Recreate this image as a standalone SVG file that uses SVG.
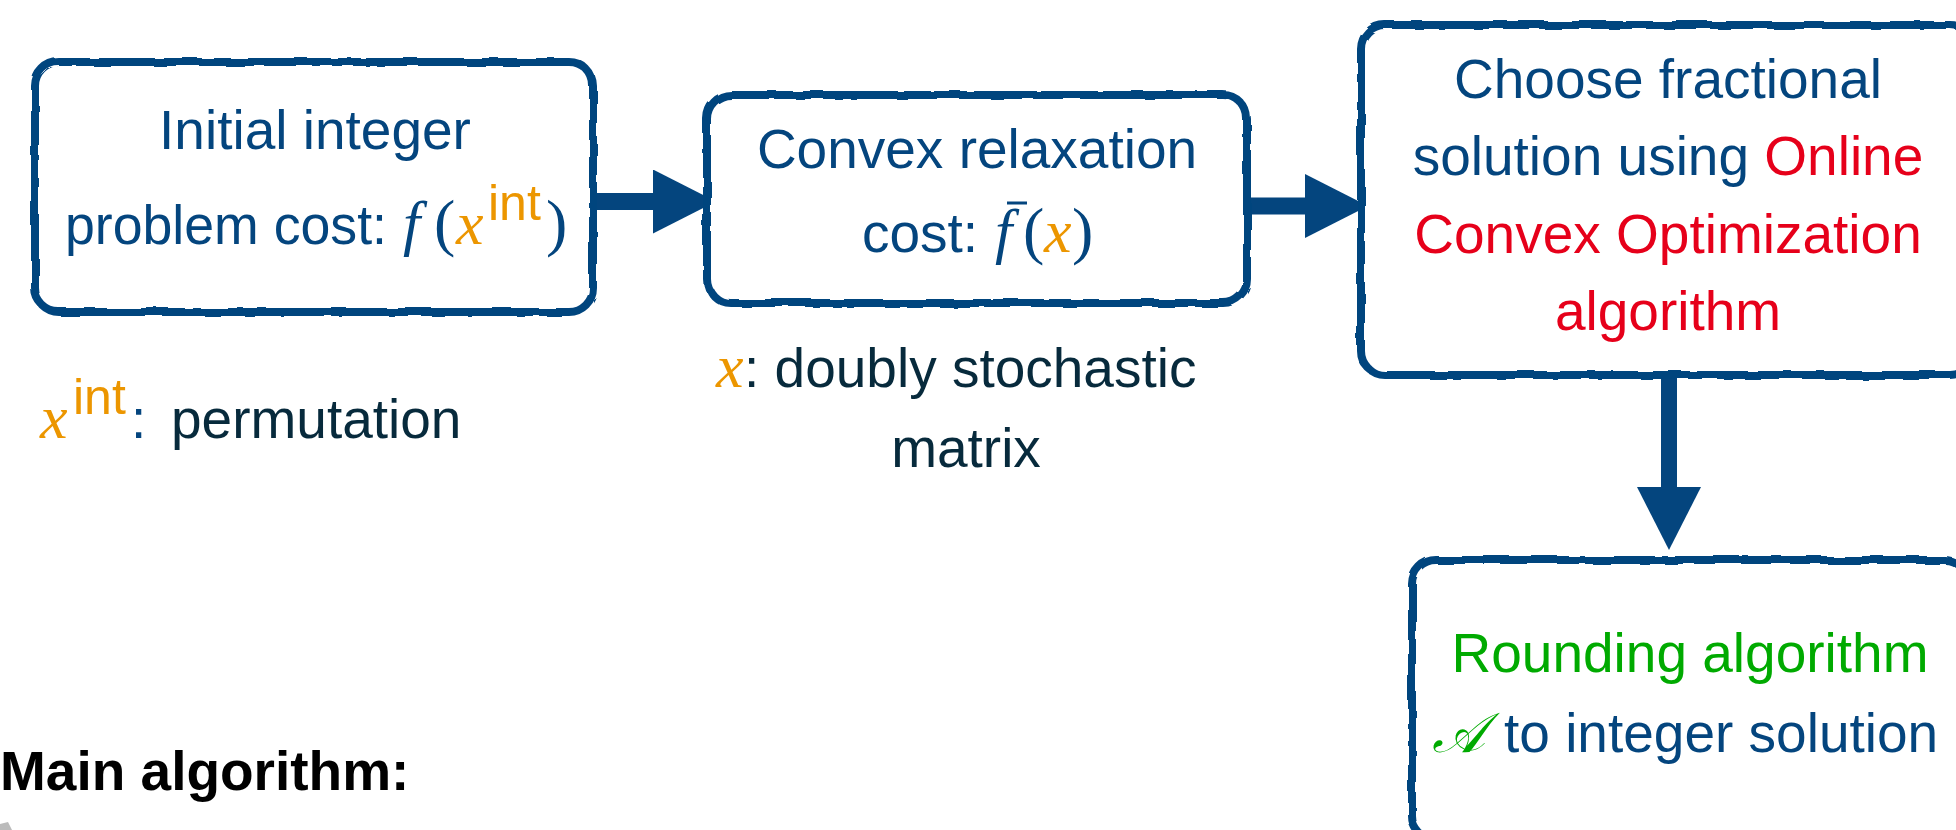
<svg xmlns="http://www.w3.org/2000/svg" width="1956" height="830" viewBox="0 0 1956 830">
<style>
.t{font-family:"Liberation Sans",Arial,sans-serif;font-size:55px}
.m{font-family:"Liberation Serif","Times New Roman",serif;font-style:italic;font-size:62px}
.mu{font-family:"Liberation Serif","Times New Roman",serif;font-size:64px}
.sup{font-family:"Liberation Sans",Arial,sans-serif;font-size:50px}
.b{fill:#04457e}.o{fill:#ec9600}.r{fill:#e6001a}.g{fill:#00aa00}.d{fill:#072a3c}
.box{fill:#fff;stroke:#04457e;stroke-width:8}
.conn{stroke:#04457e;fill:none}
</style>
<defs>
<marker id="head" markerUnits="userSpaceOnUse" markerWidth="64" markerHeight="64" refX="0" refY="32" orient="auto" viewBox="0 0 64 64">
<path d="M0,0 L63,32 L0,64 Z" fill="#04457e"/>
</marker>
<filter id="rough" x="-5%" y="-5%" width="110%" height="110%">
<feTurbulence type="fractalNoise" baseFrequency="0.035" numOctaves="2" seed="3"/>
<feDisplacementMap in="SourceGraphic" scale="5"/>
</filter>
</defs>
<rect width="1956" height="830" fill="#fff"/>
<g id="connectors">
<line class="conn" x1="590" y1="201.5" x2="653" y2="201.5" stroke-width="17" marker-end="url(#head)"/>
<line class="conn" x1="1247" y1="206" x2="1305" y2="206" stroke-width="17" marker-end="url(#head)"/>
<line class="conn" x1="1669" y1="378" x2="1669" y2="487" stroke-width="16" marker-end="url(#head)"/>
</g>
<g id="box-initial">
<rect class="box" x="35" y="62" width="558" height="250" rx="24" filter="url(#rough)"/>
<text class="t b" x="315" y="149" text-anchor="middle">Initial integer</text>
<text class="t b" y="244"><tspan x="65" textLength="322" lengthAdjust="spacingAndGlyphs">problem cost:</tspan><tspan class="m" x="403">f</tspan><tspan class="mu" x="434">(</tspan><tspan class="m o" x="456">x</tspan><tspan class="sup o" x="488" dy="-24">int</tspan><tspan class="mu" x="546" dy="24">)</tspan></text>
</g>
<g id="box-relax">
<rect class="box" x="707" y="95" width="540" height="208" rx="24" filter="url(#rough)"/>
<text class="t b" x="977" y="168" text-anchor="middle">Convex relaxation</text>
<text class="t b" y="252"><tspan x="862">cost:</tspan><tspan class="m" x="995">f</tspan><tspan class="mu" x="1023">(</tspan><tspan class="m o" x="1044">x</tspan><tspan class="mu" x="1072">)</tspan></text>
<line x1="1007" y1="203" x2="1027" y2="203" stroke="#04457e" stroke-width="3"/>
</g>
<g id="box-oco">
<rect class="box" x="1361" y="25" width="613" height="350" rx="24" filter="url(#rough)"/>
<text class="t b" x="1668" y="98" text-anchor="middle">Choose fractional</text>
<text class="t" x="1668" y="175" text-anchor="middle"><tspan class="b">solution using </tspan><tspan class="r">Online</tspan></text>
<text class="t r" x="1668" y="253" text-anchor="middle">Convex Optimization</text>
<text class="t r" x="1668" y="330" text-anchor="middle">algorithm</text>
</g>
<g id="box-round">
<rect class="box" x="1412" y="560" width="556" height="280" rx="24" filter="url(#rough)"/>
<text class="t g" x="1690" y="672" text-anchor="middle">Rounding algorithm</text>
<text class="t" y="752"><tspan class="g" x="1432" font-family="'Liberation Serif',serif" font-style="italic" font-size="56">𝒜</tspan><tspan class="b" x="1504">to integer solution</tspan></text>
</g>
<g id="note-perm">
<text class="t d" y="438"><tspan class="m o" x="40">x</tspan><tspan class="sup o" x="73" dy="-24">int</tspan><tspan class="b" x="131" dy="24">:</tspan><tspan x="171">permutation</tspan></text>
</g>
<g id="note-ds">
<text class="t d" y="387"><tspan class="m o" x="716">x</tspan><tspan x="744">: doubly stochastic</tspan></text>
<text class="t d" x="966" y="467" text-anchor="middle">matrix</text>
</g>
<g id="title">
<text class="t" x="0" y="790" font-weight="bold" fill="#000">Main algorithm:</text>
</g>
<path d="M0,824 L8,822 L12,830 L0,830 Z" fill="#bbb"/>
</svg>
